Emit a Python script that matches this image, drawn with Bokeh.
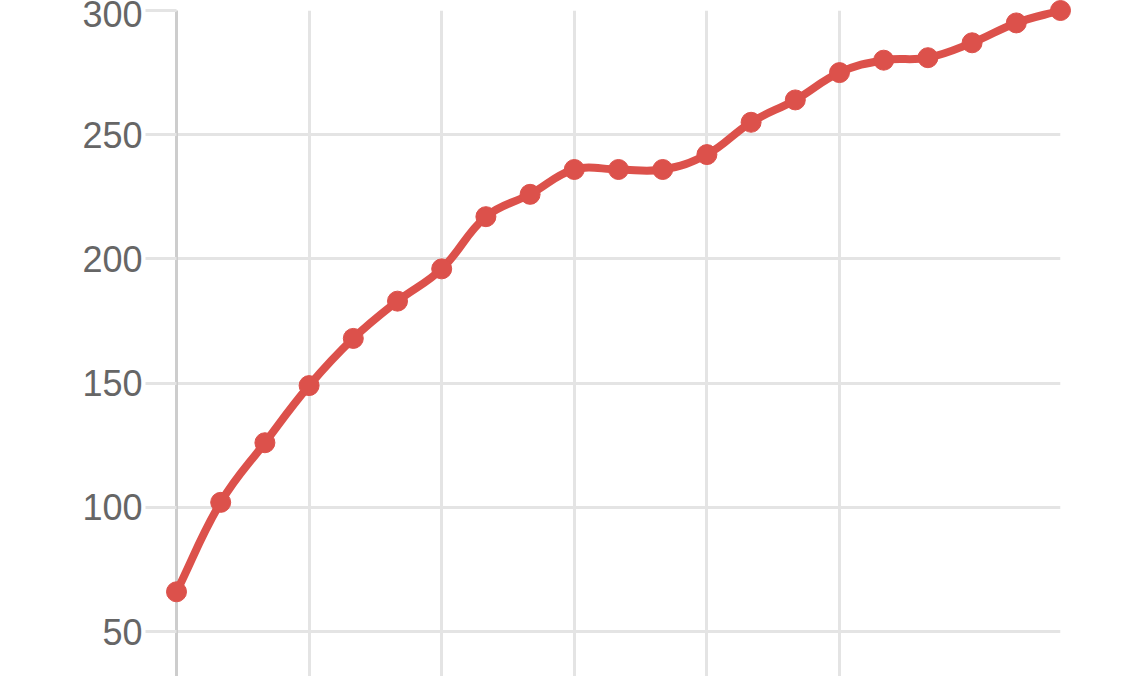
import math
from bokeh.plotting import figure
from bokeh.models import FixedTicker
from bokeh.embed import file_html
from bokeh.resources import INLINE


# data
steps = list(range(21))
values = [66, 102, 126, 149, 168, 183, 196, 217, 226, 236, 236, 236,
          242, 255, 264, 275, 280, 281, 287, 295, 300]
x_ticks = [0, 3, 6, 9, 12, 15, 20]
y_ticks = [50, 100, 150, 200, 250, 300]

red = "#dc514b"
grid_gray = "#e4e4e4"

# layout
W, H = 1125, 676
border_left, border_right, border_top, border_bottom = 176, 65, 10, 0
y_lo, y_hi = 31.9, 300

p = figure(width=W, height=H, x_range=(0, 20), y_range=(y_lo, y_hi),
           output_backend="svg", toolbar_location=None, x_axis_location=None,
           min_border_left=border_left, min_border_right=border_right,
           min_border_top=border_top, min_border_bottom=border_bottom,
           outline_line_color=None, background_fill_color="white",
           border_fill_color="white")

# grid
p.xgrid.ticker = FixedTicker(ticks=x_ticks)
p.ygrid.ticker = FixedTicker(ticks=y_ticks)
p.grid.grid_line_color = grid_gray
p.grid.grid_line_width = 3

# y axis, chart.js style: long light tick marks, gray labels
p.yaxis.ticker = FixedTicker(ticks=y_ticks)
p.yaxis.minor_tick_line_color = None
p.yaxis.major_tick_out = 31
p.yaxis.major_tick_in = 0
p.yaxis.major_tick_line_color = grid_gray
p.yaxis.major_tick_line_width = 3
p.yaxis.axis_line_color = "#cdcdcd"
p.yaxis.axis_line_width = 3
p.yaxis.major_label_standoff = 3
p.yaxis.major_label_text_font = "Liberation Sans"
p.yaxis.major_label_text_font_size = "36px"
p.yaxis.major_label_text_color = "#666666"

# smooth line like chart.js (tension 0.4), control points from the data
sx = (W - border_left - border_right) / 20
sy = (H - border_top - border_bottom) / (y_hi - y_lo)
tension = 0.4
n = len(values)
cp_prev = []
cp_next = []
for i in range(n):
    x0, y0 = (steps[i - 1], values[i - 1]) if i > 0 else (steps[i], values[i])
    x1, y1 = steps[i], values[i]
    x2, y2 = (steps[i + 1], values[i + 1]) if i < n - 1 else (steps[i], values[i])
    d01 = math.hypot((x1 - x0) * sx, (y1 - y0) * sy)
    d12 = math.hypot((x2 - x1) * sx, (y2 - y1) * sy)
    s01 = d01 / (d01 + d12) if d01 + d12 else 0
    s12 = d12 / (d01 + d12) if d01 + d12 else 0
    fa = tension * s01
    fb = tension * s12
    cp_prev.append((x1 - fa * (x2 - x0), y1 - fa * (y2 - y0)))
    cp_next.append((x1 + fb * (x2 - x0), y1 + fb * (y2 - y0)))

curve = p.bezier(x0=steps[:-1], y0=values[:-1], x1=steps[1:], y1=values[1:],
                 cx0=[c[0] for c in cp_next[:-1]], cy0=[c[1] for c in cp_next[:-1]],
                 cx1=[c[0] for c in cp_prev[1:]], cy1=[c[1] for c in cp_prev[1:]],
                 line_color=red, line_width=8)
curve.level = "overlay"

dots = p.scatter(steps, values, size=20, fill_color=red, line_color=red)
dots.level = "overlay"

open("out.html", "w").write(file_html(p, INLINE))
